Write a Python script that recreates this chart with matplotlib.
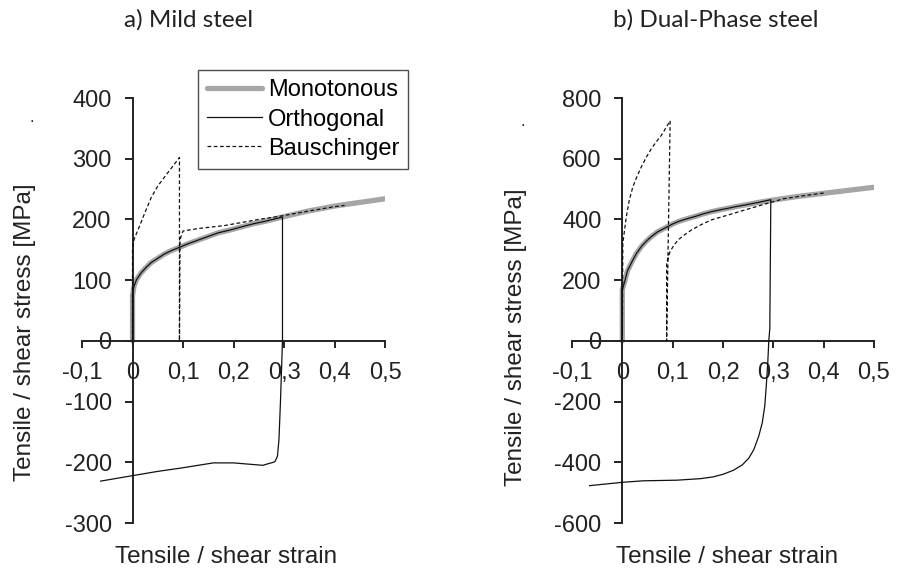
import matplotlib
matplotlib.use("Agg")
import matplotlib.pyplot as plt
from matplotlib.ticker import FuncFormatter

plt.rcParams['font.family'] = ['Liberation Sans', 'DejaVu Sans']
plt.rcParams['axes.unicode_minus'] = False

# ---- a) Mild steel ----
mild_mono_x = [0, 0, 0.003, 0.008, 0.017, 0.027, 0.037, 0.05, 0.063, 0.078, 0.093, 0.11, 0.13, 0.15,
               0.17, 0.195, 0.217, 0.24, 0.263, 0.297, 0.343, 0.4, 0.45, 0.5]
mild_mono_y = [0, 74, 90, 101, 112, 121, 129, 136, 143, 149, 154, 160, 166, 172,
               178, 183, 188, 193, 197, 204, 213, 222, 228, 234]

mild_orth_x = [0, 0, 0.003, 0.008, 0.017, 0.027, 0.037, 0.05, 0.063, 0.078, 0.093, 0.11, 0.13, 0.15,
               0.17, 0.195, 0.217, 0.24, 0.263, 0.297,
               0.297, 0.293, 0.29, 0.287, 0.282, 0.275, 0.27, 0.258, 0.2, 0.16, 0.1, 0.05, 0.0, -0.063]
mild_orth_y = [0, 78, 90, 101, 112, 121, 129, 136, 143, 149, 154, 160, 166, 172,
               178, 183, 188, 193, 197, 204,
               0, -100, -163, -190, -199, -201, -202, -205, -201, -201, -209, -215, -222, -231]

mild_baus_x = [0, 0, 0.003, 0.013, 0.023, 0.037, 0.05, 0.07, 0.093,
               0.093, 0.094, 0.1, 0.13, 0.183, 0.25, 0.297, 0.35, 0.4, 0.42]
mild_baus_y = [0, 150, 167, 187, 208, 236, 255, 277, 302,
               0, 167, 181, 185, 190, 200, 206, 214, 221, 223]

# ---- b) Dual-Phase steel ----
dp_mono_x = [0, 0, 0.005, 0.01, 0.018, 0.028, 0.038, 0.048, 0.058, 0.07, 0.085, 0.1, 0.111, 0.128,
             0.145, 0.16, 0.178, 0.195, 0.211, 0.228, 0.245, 0.27, 0.3, 0.35, 0.4, 0.45, 0.5]
dp_mono_y = [0, 169, 197, 230, 257, 288, 311, 329, 344, 359, 372, 385, 393, 402,
             410, 418, 426, 432, 437, 443, 448, 456, 464, 476, 486, 496, 506]

dp_orth_x = [0, 0, 0.005, 0.01, 0.018, 0.028, 0.038, 0.048, 0.058, 0.07, 0.085, 0.1, 0.111, 0.128,
             0.145, 0.16, 0.178, 0.195, 0.211, 0.228, 0.245, 0.27, 0.295,
             0.293, 0.291, 0.289, 0.286, 0.283, 0.278, 0.271, 0.261, 0.251, 0.238, 0.221, 0.201,
             0.181, 0.155, 0.108, 0.041, 0.0, -0.065]
dp_orth_y = [0, 169, 197, 230, 257, 288, 311, 329, 344, 359, 372, 385, 393, 402,
             410, 418, 426, 432, 437, 443, 448, 456, 465,
             41, 0, -70, -148, -214, -270, -314, -359, -387, -409, -426, -439,
             -448, -454, -459, -461, -466, -477]

dp_baus_x = [0, 0.001, 0.008, 0.014, 0.021, 0.03, 0.038, 0.048, 0.058, 0.068, 0.078, 0.095,
             0.088, 0.088, 0.095, 0.103, 0.111, 0.125, 0.138, 0.158, 0.178, 0.211, 0.245, 0.278,
             0.32, 0.36, 0.4]
dp_baus_y = [0, 322, 410, 465, 508, 545, 574, 606, 634, 657, 678, 725,
             0, 257, 295, 316, 333, 351, 366, 384, 399, 415, 432, 448,
             468, 478, 487]

x_ticks = [-0.1, 0, 0.1, 0.2, 0.3, 0.4, 0.5]
mild_yticks = [-300, -200, -100, 0, 100, 200, 300, 400]
dp_yticks = [-600, -400, -200, 0, 200, 400, 600, 800]

titles = ['a) Mild steel', 'b) Dual-Phase steel']
legend_labels = ['Monotonous', 'Orthogonal', 'Bauschinger']


def comma_fmt(v, pos):
    if abs(v) < 1e-9:
        return '0'
    return ('%.1f' % v).replace('.', ',')


def setup_axes(ax, yticks):
    ax.set_xlim(-0.1, 0.5)
    ax.set_ylim(yticks[0], yticks[-1])
    ax.spines['left'].set_position(('data', 0))
    ax.spines['bottom'].set_position(('data', 0))
    ax.spines['top'].set_visible(False)
    ax.spines['right'].set_visible(False)
    for s in ('left', 'bottom'):
        ax.spines[s].set_linewidth(1.4)
        ax.spines[s].set_color('#222222')
    ax.set_xticks(x_ticks)
    ax.set_yticks(yticks)
    ax.xaxis.set_major_formatter(FuncFormatter(comma_fmt))
    ax.tick_params(axis='y', direction='out', length=6, width=1.4, pad=9,
                   labelsize=17, colors='#222222')
    ax.tick_params(axis='x', direction='out', length=5, width=1.4, pad=10,
                   labelsize=17, colors='#222222')
    ax.patch.set_visible(False)


def draw(ax, mono, orth, baus):
    h1, = ax.plot(*mono, color='#a6a6a6', lw=3.8, solid_capstyle='round', zorder=2)
    h2, = ax.plot(*orth, color='#111111', lw=0.9, zorder=3)
    h3, = ax.plot(*baus, color='#111111', lw=0.9, dashes=(3, 2), zorder=4)
    return [h1, h2, h3]


fig = plt.figure(figsize=(8.97, 5.75), dpi=100)
ax1 = fig.add_axes([82 / 897, 1 - 523 / 575, 303 / 897, 425 / 575])
ax2 = fig.add_axes([572 / 897, 1 - 523 / 575, 302 / 897, 425 / 575])

setup_axes(ax1, mild_yticks)
setup_axes(ax2, dp_yticks)
handles = draw(ax1, (mild_mono_x, mild_mono_y), (mild_orth_x, mild_orth_y), (mild_baus_x, mild_baus_y))
draw(ax2, (dp_mono_x, dp_mono_y), (dp_orth_x, dp_orth_y), (dp_baus_x, dp_baus_y))

# titles in a Calibri-like face
fig.text(189 / 897, 1 - 20 / 575, titles[0], family='Lato', fontsize=17.5,
         ha='center', va='center', color='#222222')
fig.text(716 / 897, 1 - 20 / 575, titles[1], family='Lato', fontsize=17.5,
         ha='center', va='center', color='#222222')

for xc, yc in [(25, 332), (516, 337)]:
    fig.text(xc / 897, 1 - yc / 575, 'Tensile / shear stress [MPa]', rotation=90,
             fontsize=17.5, ha='center', va='center', color='#222222')
for xc in (226, 727):
    fig.text(xc / 897, 1 - 557 / 575, 'Tensile / shear strain', fontsize=17.5,
             ha='center', va='center', color='#222222')

# stray dots next to the axis labels
fig.text(32 / 897, 1 - 117 / 575, '.', fontsize=12, ha='center', va='center', color='#222222')
fig.text(523 / 897, 1 - 121 / 575, '.', fontsize=12, ha='center', va='center', color='#222222')

leg = fig.legend(handles, legend_labels, loc='upper left',
                 bbox_to_anchor=(198 / 897, 1 - 70 / 575), borderaxespad=0,
                 fontsize=17, frameon=True, fancybox=False, handlelength=2.3,
                 handletextpad=0.25, labelspacing=0.3, borderpad=0.4)
leg.get_frame().set_edgecolor('#222222')
leg.get_frame().set_linewidth(1.0)

fig.savefig('out.png', dpi=100)
